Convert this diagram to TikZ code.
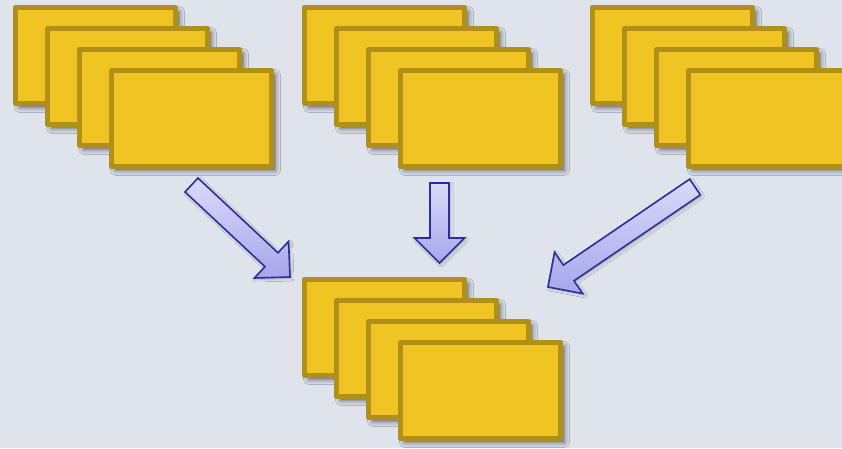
\documentclass[tikz,border=0pt]{standalone}
\usetikzlibrary{calc,shadows.blur}

\definecolor{bgcol}{RGB}{222,227,236}
\definecolor{cardfill}{RGB}{240,196,34}
\definecolor{cardline}{RGB}{176,144,24}
\definecolor{arrowline}{RGB}{46,46,154}
\definecolor{arrowtop}{RGB}{218,218,250}
\definecolor{arrowbot}{RGB}{166,166,236}

\tikzset{
  card/.style={draw=cardline, fill=cardfill, line width=5pt, line join=round,
    minimum width=160pt, minimum height=96pt, inner sep=0pt, outer sep=0pt,
    anchor=north west,
    blur shadow={shadow xshift=4pt, shadow yshift=-4pt, shadow blur radius=5pt,
      shadow opacity=60}},
  blockarrow/.style={draw=arrowline, line width=1.6pt, line join=miter,
    top color=arrowtop, bottom color=arrowbot,
    blur shadow={shadow xshift=1.5pt, shadow yshift=-1.5pt, shadow blur radius=2.5pt,
      shadow opacity=25}}
}

% a stack of four cards; #1 = name prefix, #2/#3 = outer top-left corner
\newcommand\cardstack[3]{%
  \foreach \k/\nm in {0/a,1/b,2/c,3/d}{
    \node[card] (#1\nm) at ({#2+2.5+32*\k},{#3+2.5+21*\k}) {};
  }%
}

% a block arrow from coordinate #1 (middle of the tail) to coordinate #2 (tip)
\newcommand\blockarrow[2]{%
  \draw[blockarrow] let \p1=($(#2)-(#1)$), \n1={atan2(\y1,\x1)},
      \n2={veclen(\x1,\y1)-25pt} in
    ($(#1)+(\n1+90:9.5pt)$)
    -- ($(#1)+(\n1:\n2)+(\n1+90:9.5pt)$)
    -- ($(#1)+(\n1:\n2)+(\n1+90:25pt)$)
    -- (#2)
    -- ($(#1)+(\n1:\n2)+(\n1-90:25pt)$)
    -- ($(#1)+(\n1:\n2)+(\n1-90:9.5pt)$)
    -- ($(#1)+(\n1-90:9.5pt)$) -- cycle;
}

\begin{document}
\begin{tikzpicture}[x=1pt, y=-1pt]
  \useasboundingbox (0,0) rectangle (842,448);
  \fill[bgcol] (0,0) rectangle (842,448);

  % three source stacks and the merged stack
  \cardstack{left}{13}{5}
  \cardstack{mid}{302}{5}
  \cardstack{right}{590}{5}
  \cardstack{merged}{302}{277}

  % arrows from the source stacks to the merged stack
  \coordinate (t1) at (191.5,185);
  \coordinate (h1) at (290,277);
  \coordinate (t2) at (439.5,183);
  \coordinate (h2) at (439.5,263);
  \coordinate (t3) at (695,187);
  \coordinate (h3) at (548,287);
  \blockarrow{t1}{h1}
  \blockarrow{t2}{h2}
  \blockarrow{t3}{h3}
\end{tikzpicture}
\end{document}
